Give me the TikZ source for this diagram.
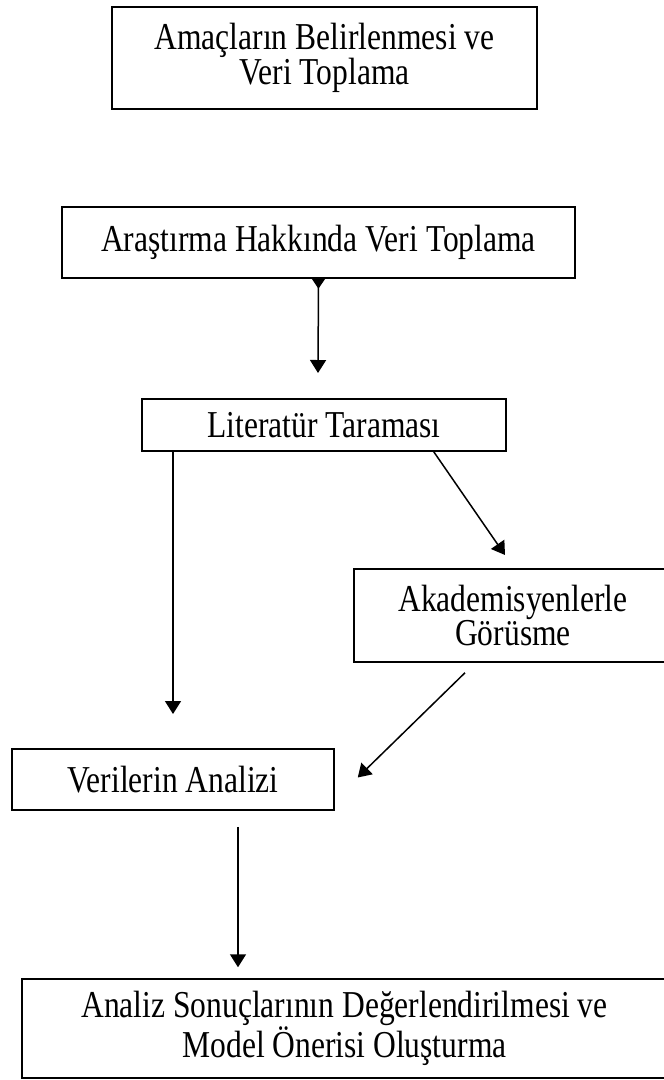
\documentclass[tikz,border=0pt]{standalone}
\usepackage{fontspec}
\setmainfont{Liberation Serif}[FakeStretch=0.83]
\usetikzlibrary{arrows.meta, calc}

\tikzset{
	kutu/.style={draw, rectangle, line width=1.5pt, align=center, inner sep=0pt,
		font=\fontsize{38}{33}\selectfont},
	ok/.style={-{Triangle[length=13pt, width=16pt]}, line width=1.5pt},
}

\begin{document}
\begin{tikzpicture}[x=1pt, y=-1pt]
	\useasboundingbox (0,0) rectangle (664,1080);

	\node[kutu, minimum width=425pt, minimum height=102pt] (amaclar) at (324.5,58)
		{Amaçların Belirlenmesi ve\\Veri Toplama};
	\node[kutu, minimum width=513pt, minimum height=71pt] (arastirma) at (318.5,242.5)
		{Araştırma Hakkında Veri Toplama};
	\node[kutu, minimum width=364pt, minimum height=52pt] (literatur) at (324,425)
		{Literatür Taraması};
	\node[kutu, minimum width=318pt, minimum height=93pt] (akademisyen) at (513,615.5)
		{Akademisyenlerle\\Görüsme};
	\node[kutu, minimum width=322pt, minimum height=61pt] (verilerin) at (173,779.5)
		{Verilerin Analizi};
	\node[kutu, minimum width=645pt, minimum height=99pt] (analiz) at (344.5,1028.5)
		{Analiz Sonuçlarının Değerlendirilmesi ve\\Model Önerisi Oluşturma};

	% serbest uclar
	\coordinate (u1) at (318,373);
	\coordinate (u2) at (173,714);
	\coordinate (u3) at (505,555);

	\draw[ok, {Triangle[reversed, length=10pt, width=13pt]}-{Triangle[length=13pt, width=16pt]}]
		(arastirma.south) -- (u1);
	\draw[ok] (literatur.south -| verilerin.north) -- (u2);
	\draw[ok] ($(literatur.south east)+(-73,0)$) -- (u3);
	\draw[ok] ($(akademisyen.south)+(-48,10)$) -- ($(verilerin.east)+(23,-2)$);
	\draw[ok] ($(verilerin.south)+(65,16)$) -- ($(analiz.north)+(-106.5,-11)$);
\end{tikzpicture}
\end{document}
